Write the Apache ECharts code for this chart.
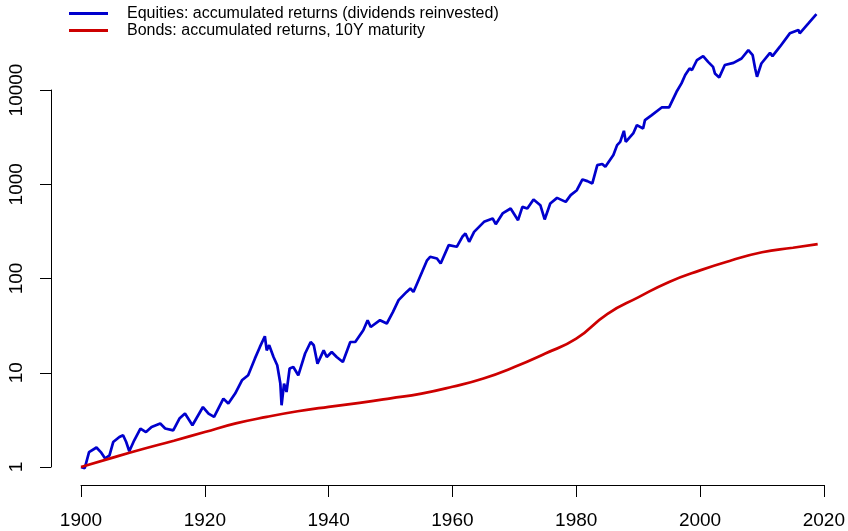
<!DOCTYPE html>
<html>
<head>
<meta charset="utf-8">
<script src="https://cdn.jsdelivr.net/npm/echarts@6/dist/echarts.min.js"></script>
<style>
  html, body { margin: 0; padding: 0; background: #fff; }
  #chart { width: 848px; height: 531px; }
</style>
</head>
<body>
<div id="chart"></div>
<script>
// equities (year, accumulated value)
const eqYears = [
  1900.0, 1900.6, 1901.3, 1902.5, 1903.2, 1903.9, 1904.6, 1905.2, 1906.2, 1906.8,
  1907.3, 1907.8, 1908.6, 1909.6, 1910.5, 1911.4, 1912.8, 1913.6, 1914.9, 1915.9,
  1916.8, 1918.0, 1919.7, 1920.6, 1921.5, 1923.0, 1923.8, 1924.9, 1926.0, 1927.0,
  1928.1, 1928.9, 1929.7, 1930.0, 1930.4, 1931.1, 1931.7, 1932.2, 1932.4, 1932.8,
  1933.2, 1933.7, 1934.3, 1935.1, 1936.2, 1937.1, 1937.6, 1938.2, 1939.2, 1939.7,
  1940.5, 1941.3, 1942.3, 1943.5, 1944.3, 1945.6, 1946.3, 1946.8, 1948.3, 1949.4,
  1950.4, 1951.3, 1952.6, 1953.2, 1953.7, 1954.4, 1955.9, 1956.4, 1957.5, 1958.1,
  1959.4, 1960.7, 1961.6, 1962.1, 1962.7, 1963.5, 1965.1, 1966.5, 1967.0, 1968.1,
  1969.4, 1970.6, 1971.3, 1972.1, 1973.1, 1974.2, 1974.9, 1975.8, 1976.9, 1978.3,
  1979.1, 1980.1, 1981.0, 1981.8, 1982.6, 1983.4, 1984.2, 1984.7, 1986.0, 1986.6,
  1987.1, 1987.7, 1988.0, 1989.2, 1989.8, 1990.8, 1991.1, 1992.2, 1993.8, 1995.0,
  1996.2, 1997.0, 1997.6, 1998.3, 1998.7, 1999.5, 2000.5, 2001.3, 2002.1, 2002.4,
  2003.1, 2004.0, 2005.4, 2006.7, 2007.8, 2008.5, 2008.9, 2009.2, 2009.9, 2011.3,
  2011.7, 2012.9, 2014.5, 2015.9, 2016.1, 2017.5, 2018.8
];
const eqValues = [
  1.0, 0.97, 1.44, 1.61, 1.44, 1.23, 1.33, 1.84, 2.08, 2.17,
  1.84, 1.47, 1.92, 2.56, 2.35, 2.66, 2.89, 2.56, 2.45, 3.27,
  3.69, 2.77, 4.33, 3.69, 3.40, 5.32, 4.71, 6.01, 8.32, 9.4,
  14.2, 18.8, 24.4, 17.3, 19.6, 14.7, 12.0, 7.68, 4.52, 7.68,
  6.25, 11.1, 11.5, 9.4, 16.0, 21.2, 19.6, 12.5, 17.3, 14.7,
  16.6, 14.7, 13.0, 21.2, 21.2, 28.3, 36.1, 30.6, 36.1, 33.3,
  44.2, 58.9, 72.1, 78.3, 72, 92, 156, 170, 163, 144,
  226, 217, 277, 300, 245, 312, 399, 433, 377, 490,
  553, 416, 575, 553, 690, 600, 423, 625, 717, 650,
  766, 865, 1125, 1080, 1020, 1595, 1640, 1530, 2040, 2600,
  2820, 3690, 2820, 3460, 4240, 3910, 4790, 5410, 6530, 6530,
  9570, 11750, 14400, 16900, 16300, 20800, 22900, 19900, 17600, 15000,
  13600, 18400, 19400, 21600, 26500, 23400, 16900, 13800, 19100, 24800,
  22900, 28800, 39900, 43300, 39900, 50900, 64000
];

// bonds, 10Y maturity
const bondYears = [
  1900, 1905, 1910, 1915, 1920, 1925, 1930, 1935, 1940, 1945, 1950, 1955, 1960,
  1965, 1970, 1975, 1980, 1985, 1990, 1995, 2000, 2005, 2010, 2015, 2019
];
const bondValues = [
  1.0, 1.25, 1.55, 1.9, 2.35, 2.9, 3.4, 3.9, 4.35, 4.8, 5.35, 6.0, 7.1,
  8.7, 11.5, 16, 23, 42, 63, 92, 122, 155, 190, 212, 232
];

const xTicks = [1900, 1920, 1940, 1960, 1980, 2000, 2020];
const yTicks = [1, 10, 100, 1000, 10000];

const FONT = '"Liberation Sans", Arial, Helvetica, sans-serif';

const zipPts = (xs, ys) => xs.map((x, i) => [x, ys[i]]);

const chart = echarts.init(document.getElementById('chart'));
chart.setOption({
  animation: false,
  backgroundColor: '#ffffff',
  grid: {
    left: 81,
    right: 24,
    top: 90,
    bottom: 64,
  },
  legend: {
    left: 69,
    top: 5,
    padding: 0,
    orient: 'vertical',
    itemWidth: 39,
    itemHeight: 3,
    itemGap: 0,
    icon: 'rect',
    textStyle: {
      fontFamily: FONT,
      fontSize: 16,
      color: '#000',
      lineHeight: 17,
      padding: [0, 0, 0, 14],
    },
    data: [
      'Equities: accumulated returns (dividends reinvested)',
      'Bonds: accumulated returns, 10Y maturity',
    ],
  },
  xAxis: {
    type: 'value',
    min: xTicks[0],
    max: xTicks[xTicks.length - 1],
    interval: 20,
    offset: 18,
    axisLine: { show: true, lineStyle: { color: '#000', width: 1 } },
    axisTick: { show: true, length: 12, lineStyle: { color: '#000' } },
    axisLabel: {
      fontFamily: FONT,
      fontSize: 19,
      color: '#000',
      margin: 26,
      showMinLabel: true,
      showMaxLabel: true,
      formatter: (v) => String(v),
    },
    splitLine: { show: false },
  },
  yAxis: {
    type: 'log',
    logBase: 10,
    min: yTicks[0],
    max: yTicks[yTicks.length - 1],
    offset: 30,
    axisLine: { show: true, lineStyle: { color: '#000', width: 1 } },
    axisTick: { show: true, length: 11, lineStyle: { color: '#000' } },
    axisLabel: {
      fontFamily: FONT,
      fontSize: 19,
      color: '#000',
      rotate: 90,
      margin: 25,
      showMinLabel: true,
      showMaxLabel: true,
      formatter: (v) => String(v),
    },
    splitLine: { show: false },
  },
  series: [
    {
      name: 'Equities: accumulated returns (dividends reinvested)',
      type: 'line',
      data: zipPts(eqYears, eqValues),
      showSymbol: false,
      clip: false,
      color: '#0000CD',
      lineStyle: { color: '#0000CD', width: 2.7 },
    },
    {
      name: 'Bonds: accumulated returns, 10Y maturity',
      type: 'line',
      data: zipPts(bondYears, bondValues),
      showSymbol: false,
      smooth: true,
      clip: false,
      color: '#CD0000',
      lineStyle: { color: '#CD0000', width: 2.7 },
    },
  ],
});
</script>
</body>
</html>
